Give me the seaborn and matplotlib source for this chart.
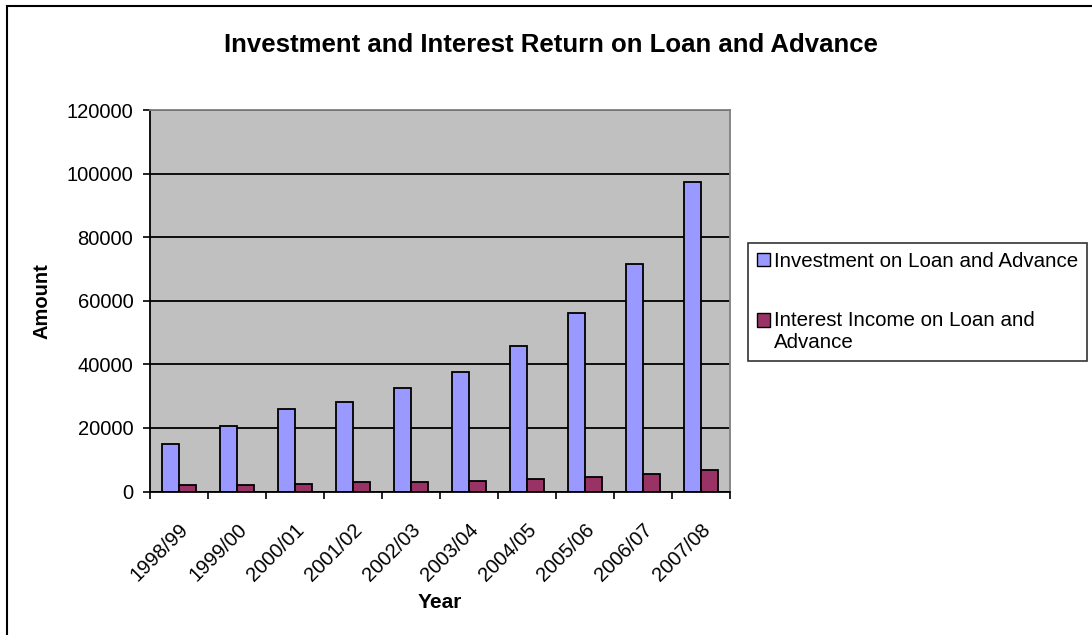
import matplotlib
matplotlib.use("Agg")
import matplotlib.pyplot as plt
import matplotlib.patches as mpatches
import matplotlib.transforms as mtransforms
from matplotlib.legend_handler import HandlerPatch
import seaborn as sns
import pandas as pd
import numpy as np

years = ["1998/99", "1999/00", "2000/01", "2001/02", "2002/03",
         "2003/04", "2004/05", "2005/06", "2006/07", "2007/08"]
investment = [14800, 20600, 26100, 28150, 32500, 37550, 45900, 56250, 71550, 97250]
interest = [1950, 1950, 2450, 2950, 2900, 3400, 3900, 4450, 5500, 6850]
series_names = ["Investment on Loan and Advance",
                "Interest Income on Loan and Advance"]
legend_labels = ["Investment on Loan and Advance",
                 "Interest Income on Loan and\nAdvance"]
y_ticks = [0, 20000, 40000, 60000, 80000, 100000, 120000]

df = pd.DataFrame({
    "Year": years * 2,
    "Amount": investment + interest,
    "Series": [series_names[0]] * len(years) + [series_names[1]] * len(years),
})

sns.set_theme(style="white")
plt.rcParams["font.family"] = ["Liberation Sans", "DejaVu Sans"]
plt.rcParams["text.color"] = "black"
plt.rcParams["axes.labelcolor"] = "black"
plt.rcParams["xtick.color"] = "black"
plt.rcParams["ytick.color"] = "black"

colors = ["#9999FF", "#993366"]

fig = plt.figure(figsize=(10.92, 6.35), dpi=100)
ax = fig.add_axes([150 / 1092, 1 - 491.5 / 635, 580 / 1092, 381.5 / 635])
ax.set_facecolor("#C0C0C0")

sns.barplot(data=df, x="Year", y="Amount", hue="Series", order=years,
            hue_order=series_names, palette=colors, width=0.571,
            edgecolor="black", linewidth=1.3, saturation=1, legend=False, ax=ax)

ax.set_ylim(0, 120000)
ax.set_xlim(-0.5, len(years) - 0.5)
ax.set_yticks(y_ticks)
ax.set_yticklabels([str(v) for v in y_ticks], fontsize=14.5)
ax.yaxis.grid(True, color="black", linewidth=1.3)
ax.set_axisbelow(True)

# category ticks sit between groups
ax.set_xticks(np.arange(len(years)))
ax.set_xticklabels(years, rotation=45, ha="right", va="top",
                   rotation_mode="anchor", fontsize=14.5)
shift = mtransforms.ScaledTranslation(-6 / 100, 0, fig.dpi_scale_trans)
for lbl in ax.get_xticklabels():
    lbl.set_transform(lbl.get_transform() + shift)
ax.set_xticks(np.arange(-0.5, len(years)), minor=True)
ax.tick_params(axis="x", which="major", length=0, pad=20.5)
ax.tick_params(axis="x", which="minor", length=5, width=1.2, color="black",
               direction="out", bottom=True)
ax.tick_params(axis="y", length=5, width=1.2, color="black", direction="out",
               left=True, pad=7)

for side in ["left", "bottom"]:
    ax.spines[side].set_color("black")
    ax.spines[side].set_linewidth(1.3)
for side in ["top", "right"]:
    ax.spines[side].set_color("#808080")
    ax.spines[side].set_linewidth(1.3)

ax.set_xlabel("Year", fontsize=15, fontweight="bold")
ax.xaxis.set_label_coords(0.5, -(603 - 491.5) / 381.5)
ax.xaxis.label.set_va("center")
ax.set_ylabel("Amount", fontsize=14.5, fontweight="bold")
ax.yaxis.set_label_coords(-(150 - 42) / 580, 0.5)
ax.yaxis.label.set_va("center")

fig.text(551 / 1092, 1 - 45 / 635, "Investment and Interest Return on Loan and Advance",
         ha="center", va="center", fontsize=18.5, fontweight="bold")


def square_on_first_line(lift):
    # keep the key square level with the first line of a wrapped label
    def make(legend, orig_handle, xdescent, ydescent, width, height, fontsize):
        return mpatches.Rectangle((-xdescent, -ydescent + lift), width, height)
    return make


handles = [mpatches.Patch(facecolor=c, edgecolor="black", linewidth=1.0)
           for c in colors]
handler_map = {
    handles[0]: HandlerPatch(patch_func=square_on_first_line(0)),
    handles[1]: HandlerPatch(patch_func=square_on_first_line(8.6)),
}
leg = fig.legend(handles, legend_labels, loc="upper left",
                 bbox_to_anchor=(748 / 1092, 1 - 243 / 635),
                 fontsize=14.8, frameon=True, fancybox=False,
                 edgecolor="black", handlelength=0.65, handleheight=0.65,
                 handletextpad=0.2, labelspacing=1.95, borderpad=0.42,
                 borderaxespad=0, handler_map=handler_map)
for t in leg.get_texts():
    t.set_linespacing(1.25)
leg.get_frame().set_linewidth(1.2)

# outer chart border
fig.add_artist(mpatches.Rectangle((7 / 1092, -0.1), 1.2, 1 - 6 / 635 + 0.1,
                                  transform=fig.transFigure, fill=False,
                                  edgecolor="black", linewidth=1.5))

fig.savefig("out.png", dpi=100)
